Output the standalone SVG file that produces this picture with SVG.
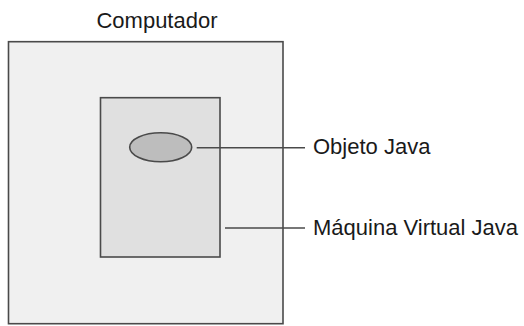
<svg xmlns="http://www.w3.org/2000/svg" width="524" height="326" viewBox="0 0 524 326">
<style>
.lbl{font-family:"Liberation Sans",Arial,sans-serif;font-size:22px;fill:#1a1a1a}
.box{stroke:#4a4a4a;stroke-width:1.6}
.conn{stroke:#4a4a4a;stroke-width:1.6;fill:none}
</style>
<rect width="524" height="326" fill="#ffffff"/>
<g id="computador">
<rect class="box" x="8.5" y="41.7" width="274.5" height="282" fill="#f0f0f0"/>
<text class="lbl" x="157" y="27.5" text-anchor="middle">Computador</text>
</g>
<g id="jvm">
<rect class="box" x="100.5" y="97.7" width="119.5" height="159.3" fill="#e0e0e0"/>
<text class="lbl" x="313" y="235">Máquina Virtual Java</text>
</g>
<g id="objeto">
<ellipse class="box" cx="160.7" cy="147.3" rx="31" ry="14.5" fill="#bdbdbd"/>
<text class="lbl" x="313" y="154">Objeto Java</text>
</g>
<g id="connectors">
<line class="conn" x1="196.7" y1="147.8" x2="305" y2="147.8"/>
<line class="conn" x1="225" y1="228" x2="305" y2="228"/>
</g>
</svg>
